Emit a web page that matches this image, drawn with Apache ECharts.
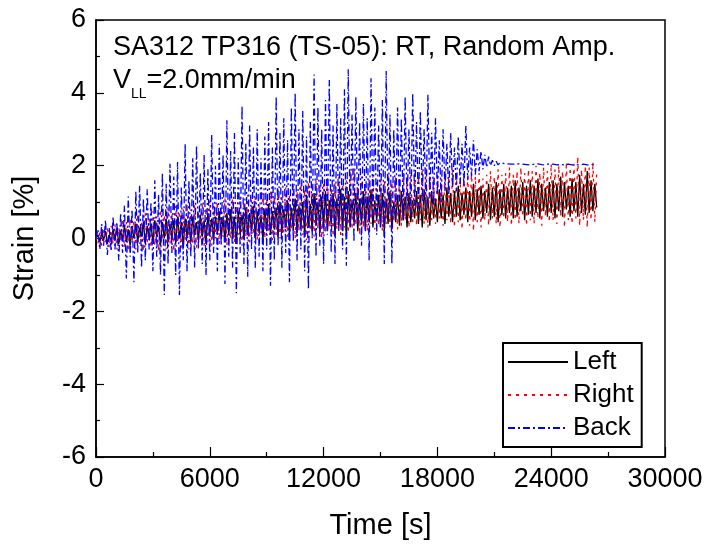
<!DOCTYPE html>
<html>
<head>
<meta charset="utf-8">
<script src="https://cdn.jsdelivr.net/npm/echarts@6/dist/echarts.min.js"></script>
<style>html,body{margin:0;padding:0;background:#fff}#c{width:711px;height:550px}</style>
</head>
<body>
<div id="c"></div>
<script>
// Time stamps [s]
var timeS = [
0,100,200,300,400,500,600,700,800,900,
1000,1100,1200,1300,1400,1500,1600,1700,1800,1900,
2000,2100,2200,2300,2400,2500,2600,2700,2800,2900,
3000,3100,3200,3300,3400,3500,3600,3700,3800,3900,
4000,4100,4200,4300,4400,4500,4600,4700,4800,4900,
5000,5100,5200,5300,5400,5500,5600,5700,5800,5900,
6000,6100,6200,6300,6400,6500,6600,6700,6800,6900,
7000,7100,7200,7300,7400,7500,7600,7700,7800,7900,
8000,8100,8200,8300,8400,8500,8600,8700,8800,8900,
9000,9100,9200,9300,9400,9500,9600,9700,9800,9900,
10000,10100,10200,10300,10400,10500,10600,10700,10800,10900,
11000,11100,11200,11300,11400,11500,11600,11700,11800,11900,
12000,12100,12200,12300,12400,12500,12600,12700,12800,12900,
13000,13100,13200,13300,13400,13500,13600,13700,13800,13900,
14000,14100,14200,14300,14400,14500,14600,14700,14800,14900,
15000,15100,15200,15300,15400,15500,15600,15700,15800,15900,
16000,16100,16200,16300,16400,16500,16600,16700,16800,16900,
17000,17100,17200,17300,17400,17500,17600,17700,17800,17900,
18000,18100,18200,18300,18400,18500,18600,18700,18800,18900,
19000,19100,19200,19300,19400,19500,19600,19700,19800,19900,
20000,20100,20200,20300,20400,20500,20600,20700,20800,20900,
21000,21100,21200,21300,21400,21500,21600,21700,21800,21900,
22000,22100,22200,22300,22400,22500,22600,22700,22800,22900,
23000,23100,23200,23300,23400,23500,23600,23700,23800,23900,
24000,24100,24200,24300,24400,24500,24600,24700,24800,24900,
25000,25100,25200,25300,25400,25500,25600,25700,25800,25900,
26000,26100,26200,26300,26400];

// Strain [%] - Left gauge
var leftStrain = [
0,0.1,-0.1,0.15,-0.05,0.2,-0.15,0.1,-0.1,0.25,
-0.05,0.3,-0.15,0.2,0.0,0.35,-0.1,0.25,-0.2,0.3,
0.0,0.4,-0.1,0.3,0.05,0.45,-0.15,0.35,0.0,0.4,
-0.1,0.5,0.05,0.35,-0.2,0.45,0.0,0.55,-0.1,0.4,
0.05,0.5,-0.15,0.6,0.0,0.45,-0.25,0.55,0.05,0.5,
-0.1,0.6,0.1,0.45,-0.05,0.65,0.05,0.5,-0.15,0.7,
0.1,0.55,-0.05,0.6,0.15,0.75,0.0,0.6,-0.1,0.7,
0.1,0.8,0.0,0.6,-0.15,0.75,0.15,0.65,0.0,0.85,
0.1,0.7,0.2,0.9,0.0,0.75,0.15,0.65,-0.05,0.8,
0.2,0.95,0.1,0.75,0.25,0.85,0.05,1.0,0.15,0.8,
0.3,1.05,0.1,0.85,0.25,1.1,0.15,0.9,0.3,1.0,
0.1,1.2,0.3,0.95,0.2,1.25,0.35,1.0,0.15,1.15,
0.3,1.3,0.2,1.05,0.4,1.25,0.1,1.1,0.35,1.35,
0.2,1.15,0.05,1.3,0.3,1.05,0.45,1.25,0.2,1.1,
0.4,1.3,0.25,1.15,0.45,1.35,0.3,1.05,0.5,1.2,
0.3,1.25,0.2,1.1,0.4,1.3,0.25,1.0,0.45,1.2,
0.35,1.3,0.5,1.15,0.3,1.25,0.45,1.05,0.55,1.3,
0.4,1.2,0.3,1.35,0.5,1.15,0.35,1.3,0.55,1.1,
0.45,1.35,0.55,1.2,0.4,1.4,0.6,1.25,0.45,1.3,
0.6,1.45,0.5,1.25,0.65,1.4,0.45,1.3,0.6,1.5,
0.5,1.35,0.65,1.45,0.55,1.3,0.7,1.5,0.5,1.4,
0.6,1.55,0.45,1.35,0.65,1.5,0.55,1.4,0.7,1.45,
0.55,1.6,0.6,1.4,0.75,1.55,0.5,1.45,0.65,1.6,
0.6,1.45,0.7,1.65,0.55,1.5,0.75,1.4,0.6,1.55,
0.7,1.6,0.55,1.5,0.75,1.7,0.6,1.55,0.8,1.45,
0.6,1.65,0.75,1.55,0.6,1.75,0.7,1.5,0.65,1.85,
0.7,1.6,0.75,1.5,0.85];

// Strain [%] - Right gauge
var rightStrain = [
0.05,-0.15,0.2,-0.2,0.25,-0.1,0.3,-0.25,0.35,-0.15,
0.4,-0.3,0.3,-0.1,0.5,-0.25,0.45,-0.35,0.55,-0.1,
0.5,-0.3,0.65,-0.15,0.45,-0.35,0.7,-0.1,0.55,-0.25,
0.75,-0.2,0.6,-0.35,0.8,-0.05,0.65,-0.3,0.85,-0.15,
0.7,-0.35,0.9,-0.1,0.75,-0.25,0.8,-0.05,0.95,-0.3,
0.8,-0.15,0.95,-0.25,0.75,0.0,1.0,-0.2,0.85,-0.1,
1.05,-0.2,0.9,0.0,1.0,-0.15,0.85,0.05,1.1,-0.2,
0.95,0.0,1.1,-0.1,0.9,0.1,1.15,-0.2,1.0,0.05,
1.2,-0.1,1.05,0.1,1.15,-0.05,0.95,0.15,1.25,0.0,
1.1,0.2,1.3,-0.05,1.15,0.1,1.35,0.0,1.2,0.15,
1.4,0.05,1.2,0.25,1.45,0.0,1.3,0.2,1.5,0.1,
1.35,-0.05,1.55,0.2,1.4,0.05,1.6,0.25,1.45,0.0,
1.5,0.15,1.65,0.3,1.4,0.05,1.55,0.25,1.7,0.1,
1.5,0.3,1.6,0.15,1.85,0.25,1.95,0.35,1.55,0.1,
1.7,0.3,1.5,0.2,1.65,0.4,1.75,0.25,1.55,0.35,
1.8,0.2,1.6,0.4,1.75,0.3,1.55,0.45,1.7,0.25,
1.65,0.35,1.8,0.5,1.6,0.3,1.75,0.45,1.85,0.35,
1.7,0.5,1.9,0.4,1.95,0.3,1.75,0.5,1.65,0.4,
1.8,0.55,1.65,0.35,1.85,0.5,1.7,0.4,1.9,0.3,
1.75,0.45,1.6,0.25,1.8,0.5,1.7,0.35,1.85,0.2,
1.7,0.45,1.8,0.3,1.65,0.5,1.75,0.35,1.85,0.55,
1.7,0.4,1.9,0.3,1.75,0.55,1.8,0.45,1.95,0.35,
1.75,0.5,1.85,0.4,1.95,0.6,1.8,0.35,1.9,0.5,
1.85,0.4,2.0,0.55,1.8,0.35,1.95,0.6,1.85,0.45,
2.05,0.5,1.9,0.4,2.0,0.6,1.85,0.3,2.1,0.5,
1.95,0.4,2.05,0.55,2.25,0.35,1.9,0.5,2.0,0.3,
1.95,0.5,2.1,0.45,1.85];

// Strain [%] - Back gauge
var backStrain = [
0,0.25,-0.3,0.4,-0.2,0.5,-0.45,0.3,-0.35,0.6,
-0.3,0.45,-0.6,0.7,-0.4,0.9,-1.1,1.15,-0.5,0.8,
-1.2,1.3,-0.4,1.45,-0.8,1.1,-0.6,1.35,-0.3,1.0,
-0.9,1.6,-0.5,1.2,-1.0,1.8,-1.55,1.5,-0.7,2.05,
-0.4,1.7,-1.0,2.1,-1.55,1.4,-0.6,2.6,-0.9,1.6,
-0.5,2.2,-0.8,2.55,-0.3,1.8,-0.7,2.3,-1.0,1.9,
-0.6,2.85,-0.4,2.0,-0.9,2.6,-0.2,2.3,-1.25,3.25,
-0.5,2.4,-0.8,2.9,-1.5,2.2,-0.4,3.65,-0.7,2.6,
-1.05,3.1,-0.3,2.5,-0.8,3.0,-0.5,2.2,-0.9,2.8,
-0.3,3.2,-1.3,2.5,-0.6,3.9,-0.2,2.9,-0.8,3.3,
-0.4,2.7,-1.2,3.6,-0.1,4.0,-0.6,3.0,-0.3,3.5,
-0.9,2.8,-1.4,3.2,0.0,4.5,-0.5,3.6,-0.2,3.0,
-0.7,3.8,0.1,4.35,-0.4,3.1,-0.7,3.7,0.2,3.3,
-0.3,4.1,-0.75,4.65,0.3,3.4,-0.1,3.9,0.4,3.2,
-0.2,3.7,0.2,3.3,-0.6,4.4,0.5,3.6,0.1,3.1,
0.3,3.8,-0.7,4.6,0.6,3.4,-0.7,3.0,0.5,3.6,
0.7,3.3,0.5,3.9,0.8,3.0,0.6,4.0,0.9,3.2,
0.7,3.5,1.0,3.0,0.8,3.95,1.1,2.9,0.9,3.3,
1.2,2.7,1.0,3.0,1.3,2.6,1.2,2.9,1.4,2.5,
1.3,2.8,1.5,2.6,1.45,3.1,1.6,2.5,1.7,2.7,
1.75,2.45,1.85,2.4,1.9,2.3,1.95,2.25,2.0,2.15,
2.0,2.12,2.02,2.08,2.03,2.06,2.02,2.05,2.03,2.04,
2.02,2.04,2.03,2.05,2.02,2.04,2.03,2.03,2.04,2.02,
2.03,2.04,2.02,2.05,2.03,2.03,2.04,2.02,2.03,2.05,
2.02,2.04,2.03,2.02,2.04,2.03,2.05,2.02,2.03,2.04,
2.03,2.02,2.04,2.03,2.05,2.02,2.03,2.04,2.03,2.02,
2.04,2.03,2.02,2.03,2.03];

var xTicks = [0, 6000, 12000, 18000, 24000, 30000];
var yTicks = [-6, -4, -2, 0, 2, 4, 6];

function pairs(ys) { return timeS.map(function (t, i) { return [t, ys[i]]; }); }

var FONT = '"Liberation Sans", Arial, sans-serif';
var chart = echarts.init(document.getElementById('c'), null, {renderer: 'canvas'});
chart.setOption({
  animation: false,
  backgroundColor: '#fff',
  textStyle: {fontFamily: FONT},
  title: [
    {text: 'SA312 TP316 (TS-05): RT, Random Amp.', left: 108, top: 29,
     textStyle: {fontSize: 27, fontWeight: 'normal', color: '#000', fontFamily: FONT}},
    {text: '{a|V}{b|LL}{a|=2.0mm/min}', left: 108, top: 62,
     textStyle: {fontWeight: 'normal', color: '#000', fontFamily: FONT,
       rich: {
         a: {fontSize: 27, color: '#000', fontFamily: FONT, verticalAlign: 'top', lineHeight: 29},
         b: {fontSize: 14, color: '#000', fontFamily: FONT, verticalAlign: 'top', padding: [20, 0, 0, 0]}
       }}}
  ],
  legend: {
    orient: 'vertical', left: 503, top: 343,
    backgroundColor: '#fff', borderColor: '#000', borderWidth: 2, borderRadius: 0,
    padding: [5, 8, 5, 4], itemGap: 5, itemWidth: 60, itemHeight: 2,
    itemStyle: {opacity: 0},
    textStyle: {fontSize: 26, color: '#000', fontFamily: FONT, lineHeight: 28},
    data: ['Left', 'Right', 'Back']
  },
  grid: {left: 96, top: 20, width: 569, height: 437, show: true, borderColor: '#000', borderWidth: 1.5, backgroundColor: 'transparent'},
  xAxis: {
    type: 'value', min: xTicks[0], max: xTicks[xTicks.length - 1], interval: xTicks[1] - xTicks[0],
    name: 'Time [s]', nameLocation: 'middle', nameGap: 54,
    nameTextStyle: {fontSize: 29, color: '#000', fontFamily: FONT},
    axisLine: {show: true, onZero: false, lineStyle: {color: '#000', width: 1.5}},
    axisTick: {show: true, inside: true, length: 10, lineStyle: {color: '#000', width: 1.2}},
    minorTick: {show: true, splitNumber: 2, length: 5, lineStyle: {color: '#000', width: 1.2}},
    axisLabel: {fontSize: 27, color: '#000', margin: 9, fontFamily: FONT,
      formatter: function (v) { return String(v); }},
    splitLine: {show: false}
  },
  yAxis: {
    type: 'value', min: yTicks[0], max: yTicks[yTicks.length - 1], interval: yTicks[1] - yTicks[0],
    name: 'Strain [%]', nameLocation: 'middle', nameGap: 57,
    nameTextStyle: {fontSize: 29, color: '#000', fontFamily: FONT},
    axisLine: {show: true, onZero: false, lineStyle: {color: '#000', width: 1.5}},
    axisTick: {show: true, inside: true, length: 8, lineStyle: {color: '#000', width: 1.2}},
    minorTick: {show: true, splitNumber: 2, length: 4, lineStyle: {color: '#000', width: 1.2}},
    axisLabel: {fontSize: 27, color: '#000', margin: 10, fontFamily: FONT},
    splitLine: {show: false}
  },
  series: [
    {name: 'Left', type: 'line', data: pairs(leftStrain), showSymbol: false, symbol: 'none',
     lineStyle: {color: '#000', width: 1.3, type: 'solid'}, itemStyle: {color: '#000'}},
    {name: 'Right', type: 'line', data: pairs(rightStrain), showSymbol: false, symbol: 'none',
     lineStyle: {color: '#ff0000', width: 1.3, type: [3, 5]}, itemStyle: {color: '#ff0000'}},
    {name: 'Back', type: 'line', data: pairs(backStrain), showSymbol: false, symbol: 'none',
     lineStyle: {color: '#0000ff', width: 1.3, type: [7, 3, 2, 3]}, itemStyle: {color: '#0000ff'}}
  ]
});
</script>
</body>
</html>
